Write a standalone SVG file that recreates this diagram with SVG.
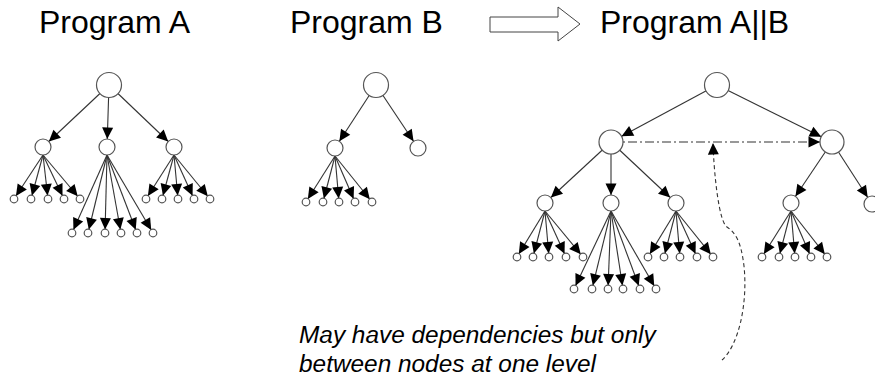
<svg xmlns="http://www.w3.org/2000/svg" width="875" height="379" viewBox="0 0 875 379">
<style>
.t{font-family:"Liberation Sans",Arial,sans-serif;font-size:32px;fill:#000}
.n{font-family:"Liberation Sans",Arial,sans-serif;font-size:24.4px;font-style:italic;fill:#000}
.e{stroke:#333;stroke-width:1.1;fill:none}
.c circle{fill:#fff;stroke:#555;stroke-width:1.2}
.dd{stroke:#333;stroke-width:1.1;fill:none;stroke-dasharray:9,3,2,3}
.da{stroke:#333;stroke-width:1.1;fill:none;stroke-dasharray:4,3}
</style>
<defs>
<marker id="as" markerUnits="userSpaceOnUse" markerWidth="30" markerHeight="12" viewBox="0 0 30 12" refX="15" refY="6" orient="auto" overflow="visible"><path d="M0,0.5 L11.5,6 L0,11.5 z" fill="#000"/></marker>
<marker id="am" markerUnits="userSpaceOnUse" markerWidth="30" markerHeight="12" viewBox="0 0 30 12" refX="19.5" refY="6" orient="auto" overflow="visible"><path d="M0,0.5 L11.5,6 L0,11.5 z" fill="#000"/></marker>
<marker id="al" markerUnits="userSpaceOnUse" markerWidth="30" markerHeight="12" viewBox="0 0 30 12" refX="23.5" refY="6" orient="auto" overflow="visible"><path d="M0,0.5 L11.5,6 L0,11.5 z" fill="#000"/></marker>
<marker id="a0" markerUnits="userSpaceOnUse" markerWidth="30" markerHeight="12" viewBox="0 0 30 12" refX="11.5" refY="6" orient="auto" overflow="visible"><path d="M0,0.5 L11.5,6 L0,11.5 z" fill="#000"/></marker>
</defs>

<g id="titles">
<text class="t" x="39" y="33">Program A</text>
<text class="t" x="290" y="33">Program B</text>
<text class="t" x="600" y="33">Program A||B</text>
<polygon points="490,17 558,17 558,7 580,24 558,41 558,32 490,32" fill="#fff" stroke="#444" stroke-width="1"/>
</g>

<g id="connectors">
<!-- Tree A -->
<line class="e" x1="109" y1="85" x2="43" y2="147" marker-end="url(#am)"/>
<line class="e" x1="109" y1="85" x2="107" y2="147" marker-end="url(#am)"/>
<line class="e" x1="109" y1="85" x2="174" y2="147" marker-end="url(#am)"/>
<line class="e" x1="43" y1="155" x2="14" y2="199" marker-end="url(#as)"/>
<line class="e" x1="43" y1="155" x2="31" y2="199" marker-end="url(#as)"/>
<line class="e" x1="43" y1="155" x2="48" y2="199" marker-end="url(#as)"/>
<line class="e" x1="43" y1="155" x2="64" y2="199" marker-end="url(#as)"/>
<line class="e" x1="43" y1="155" x2="80" y2="199" marker-end="url(#as)"/>
<line class="e" x1="107" y1="155" x2="72" y2="233" marker-end="url(#as)"/>
<line class="e" x1="107" y1="155" x2="88" y2="233" marker-end="url(#as)"/>
<line class="e" x1="107" y1="155" x2="105" y2="233" marker-end="url(#as)"/>
<line class="e" x1="107" y1="155" x2="121" y2="233" marker-end="url(#as)"/>
<line class="e" x1="107" y1="155" x2="137" y2="233" marker-end="url(#as)"/>
<line class="e" x1="107" y1="155" x2="153" y2="233" marker-end="url(#as)"/>
<line class="e" x1="174" y1="155" x2="146" y2="199" marker-end="url(#as)"/>
<line class="e" x1="174" y1="155" x2="162" y2="199" marker-end="url(#as)"/>
<line class="e" x1="174" y1="155" x2="178" y2="199" marker-end="url(#as)"/>
<line class="e" x1="174" y1="155" x2="194" y2="199" marker-end="url(#as)"/>
<line class="e" x1="174" y1="155" x2="210" y2="199" marker-end="url(#as)"/>
<!-- Tree B -->
<line class="e" x1="376" y1="85" x2="335" y2="148" marker-end="url(#am)"/>
<line class="e" x1="376" y1="85" x2="418" y2="148" marker-end="url(#am)"/>
<line class="e" x1="335" y1="156" x2="306" y2="202" marker-end="url(#as)"/>
<line class="e" x1="335" y1="156" x2="323" y2="202" marker-end="url(#as)"/>
<line class="e" x1="335" y1="156" x2="339" y2="202" marker-end="url(#as)"/>
<line class="e" x1="335" y1="156" x2="355" y2="202" marker-end="url(#as)"/>
<line class="e" x1="335" y1="156" x2="372" y2="202" marker-end="url(#as)"/>
<!-- Tree A||B -->
<line class="e" x1="717" y1="85" x2="611" y2="142" marker-end="url(#al)"/>
<line class="e" x1="717" y1="85" x2="832" y2="142" marker-end="url(#al)"/>
<line class="e" x1="611" y1="142" x2="545" y2="203" marker-end="url(#am)"/>
<line class="e" x1="611" y1="142" x2="611" y2="203" marker-end="url(#am)"/>
<line class="e" x1="611" y1="142" x2="676" y2="203" marker-end="url(#am)"/>
<line class="e" x1="832" y1="142" x2="791" y2="203" marker-end="url(#am)"/>
<line class="e" x1="832" y1="142" x2="872" y2="204" marker-end="url(#am)"/>
<line class="e" x1="545" y1="211" x2="517" y2="257" marker-end="url(#as)"/>
<line class="e" x1="545" y1="211" x2="533" y2="257" marker-end="url(#as)"/>
<line class="e" x1="545" y1="211" x2="549" y2="257" marker-end="url(#as)"/>
<line class="e" x1="545" y1="211" x2="566" y2="257" marker-end="url(#as)"/>
<line class="e" x1="545" y1="211" x2="583" y2="257" marker-end="url(#as)"/>
<line class="e" x1="611" y1="211" x2="574" y2="289" marker-end="url(#as)"/>
<line class="e" x1="611" y1="211" x2="592" y2="289" marker-end="url(#as)"/>
<line class="e" x1="611" y1="211" x2="608" y2="289" marker-end="url(#as)"/>
<line class="e" x1="611" y1="211" x2="623" y2="289" marker-end="url(#as)"/>
<line class="e" x1="611" y1="211" x2="640" y2="289" marker-end="url(#as)"/>
<line class="e" x1="611" y1="211" x2="656" y2="289" marker-end="url(#as)"/>
<line class="e" x1="676" y1="211" x2="648" y2="257" marker-end="url(#as)"/>
<line class="e" x1="676" y1="211" x2="664" y2="257" marker-end="url(#as)"/>
<line class="e" x1="676" y1="211" x2="680" y2="257" marker-end="url(#as)"/>
<line class="e" x1="676" y1="211" x2="697" y2="257" marker-end="url(#as)"/>
<line class="e" x1="676" y1="211" x2="713" y2="257" marker-end="url(#as)"/>
<line class="e" x1="791" y1="211" x2="762" y2="257" marker-end="url(#as)"/>
<line class="e" x1="791" y1="211" x2="779" y2="257" marker-end="url(#as)"/>
<line class="e" x1="791" y1="211" x2="795" y2="257" marker-end="url(#as)"/>
<line class="e" x1="791" y1="211" x2="811" y2="257" marker-end="url(#as)"/>
<line class="e" x1="791" y1="211" x2="827" y2="257" marker-end="url(#as)"/>
<!-- dependency -->
<line class="dd" x1="611" y1="142" x2="832" y2="142" marker-end="url(#al)"/>
<path class="da" d="M722,360 C738,346 748,305 744,266 C741,242 736,233 727,227 C719,222 714,175 713,143" marker-end="url(#a0)"/>
</g>

<g class="c">
<g id="a-root"><circle cx="109" cy="85" r="12.5"/></g>
<g id="a-1"><circle cx="43" cy="147" r="8"/></g>
<g id="a-2"><circle cx="107" cy="147" r="8"/></g>
<g id="a-3"><circle cx="174" cy="147" r="8"/></g>
<g id="a-1-1"><circle cx="14" cy="199" r="3.8"/></g>
<g id="a-1-2"><circle cx="31" cy="199" r="3.8"/></g>
<g id="a-1-3"><circle cx="48" cy="199" r="3.8"/></g>
<g id="a-1-4"><circle cx="64" cy="199" r="3.8"/></g>
<g id="a-1-5"><circle cx="80" cy="199" r="3.8"/></g>
<g id="a-2-1"><circle cx="72" cy="233" r="3.8"/></g>
<g id="a-2-2"><circle cx="88" cy="233" r="3.8"/></g>
<g id="a-2-3"><circle cx="105" cy="233" r="3.8"/></g>
<g id="a-2-4"><circle cx="121" cy="233" r="3.8"/></g>
<g id="a-2-5"><circle cx="137" cy="233" r="3.8"/></g>
<g id="a-2-6"><circle cx="153" cy="233" r="3.8"/></g>
<g id="a-3-1"><circle cx="146" cy="199" r="3.8"/></g>
<g id="a-3-2"><circle cx="162" cy="199" r="3.8"/></g>
<g id="a-3-3"><circle cx="178" cy="199" r="3.8"/></g>
<g id="a-3-4"><circle cx="194" cy="199" r="3.8"/></g>
<g id="a-3-5"><circle cx="210" cy="199" r="3.8"/></g>

<g id="b-root"><circle cx="376" cy="85" r="12.5"/></g>
<g id="b-1"><circle cx="335" cy="148" r="8"/></g>
<g id="b-2"><circle cx="418" cy="148" r="8"/></g>
<g id="b-1-1"><circle cx="306" cy="202" r="3.8"/></g>
<g id="b-1-2"><circle cx="323" cy="202" r="3.8"/></g>
<g id="b-1-3"><circle cx="339" cy="202" r="3.8"/></g>
<g id="b-1-4"><circle cx="355" cy="202" r="3.8"/></g>
<g id="b-1-5"><circle cx="372" cy="202" r="3.8"/></g>

<g id="ab-root"><circle cx="717" cy="85" r="12.5"/></g>
<g id="ab-a"><circle cx="611" cy="142" r="12"/></g>
<g id="ab-b"><circle cx="832" cy="142" r="12"/></g>
<g id="ab-a-1"><circle cx="545" cy="203" r="8"/></g>
<g id="ab-a-2"><circle cx="611" cy="203" r="8"/></g>
<g id="ab-a-3"><circle cx="676" cy="203" r="8"/></g>
<g id="ab-b-1"><circle cx="791" cy="203" r="8"/></g>
<g id="ab-b-2"><circle cx="872" cy="204" r="8"/></g>
<g id="ab-a-1-1"><circle cx="517" cy="257" r="3.8"/></g>
<g id="ab-a-1-2"><circle cx="533" cy="257" r="3.8"/></g>
<g id="ab-a-1-3"><circle cx="549" cy="257" r="3.8"/></g>
<g id="ab-a-1-4"><circle cx="566" cy="257" r="3.8"/></g>
<g id="ab-a-1-5"><circle cx="583" cy="257" r="3.8"/></g>
<g id="ab-a-2-1"><circle cx="574" cy="289" r="3.8"/></g>
<g id="ab-a-2-2"><circle cx="592" cy="289" r="3.8"/></g>
<g id="ab-a-2-3"><circle cx="608" cy="289" r="3.8"/></g>
<g id="ab-a-2-4"><circle cx="623" cy="289" r="3.8"/></g>
<g id="ab-a-2-5"><circle cx="640" cy="289" r="3.8"/></g>
<g id="ab-a-2-6"><circle cx="656" cy="289" r="3.8"/></g>
<g id="ab-a-3-1"><circle cx="648" cy="257" r="3.8"/></g>
<g id="ab-a-3-2"><circle cx="664" cy="257" r="3.8"/></g>
<g id="ab-a-3-3"><circle cx="680" cy="257" r="3.8"/></g>
<g id="ab-a-3-4"><circle cx="697" cy="257" r="3.8"/></g>
<g id="ab-a-3-5"><circle cx="713" cy="257" r="3.8"/></g>
<g id="ab-b-1-1"><circle cx="762" cy="257" r="3.8"/></g>
<g id="ab-b-1-2"><circle cx="779" cy="257" r="3.8"/></g>
<g id="ab-b-1-3"><circle cx="795" cy="257" r="3.8"/></g>
<g id="ab-b-1-4"><circle cx="811" cy="257" r="3.8"/></g>
<g id="ab-b-1-5"><circle cx="827" cy="257" r="3.8"/></g>
</g>

<g id="note">
<text class="n" x="299" y="343">May have dependencies but only</text>
<text class="n" x="299" y="372">between nodes at one level</text>
</g>
</svg>
